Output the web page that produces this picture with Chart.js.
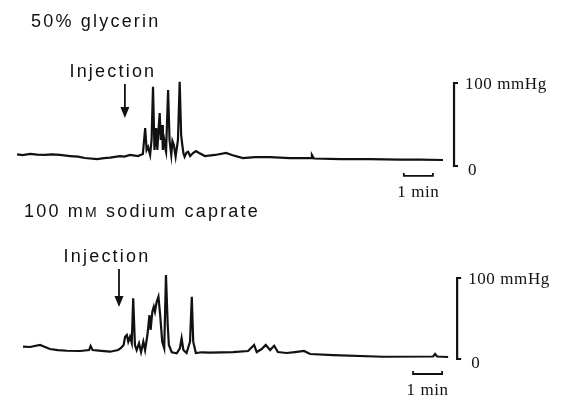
<!DOCTYPE html>
<html>
<head>
<meta charset="utf-8">
<script src="https://cdn.jsdelivr.net/npm/chart.js@4/dist/chart.umd.min.js"></script>
<style>
  body { margin: 0; background: #fff; }
  .wrap { position: relative; width: 562px; height: 403px; }
  canvas { position: absolute; left: 0; }
</style>
</head>
<body>
<div class="wrap">
  <canvas id="chartTop" width="562" height="200" style="top:0"></canvas>
  <canvas id="chartBottom" width="562" height="203" style="top:200px"></canvas>
</div>
<script>
// time in min, pressure in mmHg
const topTime = [0, 0.2, 0.45, 0.7, 0.97, 1.2, 1.48, 1.83, 2.1, 2.34, 2.76, 3.0, 3.21, 3.55, 3.7, 3.9, 4.17, 4.34, 4.42, 4.47, 4.52, 4.59, 4.64, 4.69, 4.74, 4.77, 4.8, 4.84, 4.88, 4.92, 4.96, 5.0, 5.03, 5.06, 5.09, 5.12, 5.14, 5.21, 5.26, 5.29, 5.32, 5.36, 5.41, 5.44, 5.47, 5.55, 5.61, 5.66, 5.7, 5.74, 5.78, 5.84, 5.9, 5.97, 6.07, 6.17, 6.28, 6.48, 6.83, 7.21, 7.41, 7.79, 8.21, 8.72, 9.41, 10.14, 10.17, 10.24, 11.14, 12.17, 13.21, 13.9, 14.69];
const topPressure = [13.9, 13.2, 14.5, 13.6, 13.3, 14.0, 13.3, 12, 11.2, 9.6, 8.4, 9.4, 10.2, 12, 11.4, 13.3, 12, 14.5, 45.8, 19.3, 22.9, 13.3, 31.3, 95.5, 19.3, 30, 45.8, 19.3, 43.4, 63.9, 31.3, 49.4, 19.3, 35, 29.3, 20, 16.9, 91.6, 31.3, 22, 13.3, 30, 25.3, 18, 11.2, 31.3, 101.6, 37.3, 25.3, 15, 11.2, 16, 17.2, 12, 15.7, 18.1, 15.7, 12, 13.3, 15.7, 13.3, 9.6, 10.8, 10.8, 9.6, 9.6, 13.3, 9, 8.4, 8.4, 7.8, 7.8, 7.2];

const bottomTime = [0, 0.24, 0.59, 0.76, 0.93, 1.2, 1.52, 1.97, 2.28, 2.33, 2.4, 2.7, 3.0, 3.28, 3.38, 3.47, 3.52, 3.58, 3.63, 3.69, 3.75, 3.8, 3.86, 3.92, 4.0, 4.07, 4.15, 4.21, 4.29, 4.36, 4.4, 4.46, 4.51, 4.55, 4.61, 4.67, 4.73, 4.8, 4.87, 4.93, 4.99, 5.03, 5.13, 5.3, 5.41, 5.47, 5.53, 5.64, 5.76, 5.82, 5.87, 5.96, 6.16, 6.45, 7.24, 7.76, 7.97, 8.06, 8.23, 8.37, 8.52, 8.66, 8.79, 9.09, 9.38, 9.69, 9.9, 10.69, 12.41, 14.14, 14.21, 14.28, 14.66];
const bottomPressure = [15.2, 14.8, 17.3, 14.8, 12.3, 11.0, 10.2, 9.9, 11.1, 16.0, 11.1, 10.0, 9.0, 11.1, 13.6, 17.3, 27.5, 29.6, 21.4, 27.5, 19.8, 74.9, 17.3, 11.1, 19.4, 8.6, 21.4, 11.1, 29.6, 54.3, 35.8, 58.4, 64.6, 58.4, 70.7, 76.9, 54.3, 21.4, 13.2, 103.7, 42.0, 17.3, 8.3, 7.0, 13.2, 25.6, 11.1, 7.4, 21.4, 76.9, 21.4, 7.4, 8.3, 7.8, 8.6, 9.9, 17.3, 8.6, 12.3, 17.3, 11.1, 16.4, 8.6, 7.4, 8.6, 9.9, 6.2, 4.9, 2.8, 3.1, 6.2, 3.1, 2.5];

const topTitle = [{ text: '50% glycerin' }];
const bottomTitle = [{ text: '100 m' }, { text: 'M', small: true }, { text: ' sodium caprate' }];
const injectionLabel = 'Injection';
const pressureLabel = '100 mmHg';
const zeroLabel = '0';
const timeLabel = '1 min';

const sans = '"Liberation Sans", Arial, Helvetica, sans-serif';
const serif = '"Liberation Serif", "Times New Roman", serif';

// draws titles, injection arrow and the calibration bars
const tracePlugin = {
  id: 'trace',
  afterDraw(chart) {
    const o = chart.options.plugins.trace;
    const ctx = chart.ctx;
    const xs = chart.scales.x, ys = chart.scales.y;
    ctx.save();
    ctx.fillStyle = '#111';
    ctx.strokeStyle = '#111';

    // title
    ctx.textBaseline = 'alphabetic';
    ctx.letterSpacing = '2.2px';
    let tx = o.titleX;
    o.title.forEach(seg => {
      ctx.font = (seg.small ? '14px ' : '18px ') + sans;
      ctx.fillText(seg.text, tx, o.titleY);
      tx += ctx.measureText(seg.text).width;
    });

    // injection arrow
    const ax = xs.getPixelForValue(o.arrowX);
    const aTop = ys.getPixelForValue(o.arrowTop);
    const aBot = ys.getPixelForValue(o.arrowBottom);
    ctx.font = '18px ' + sans;
    ctx.textAlign = 'center';
    ctx.fillText(injectionLabel, ax - 12, aTop - 7);
    ctx.lineWidth = 1.8;
    ctx.beginPath();
    ctx.moveTo(ax, aTop);
    ctx.lineTo(ax, aBot - 8);
    ctx.stroke();
    ctx.beginPath();
    ctx.moveTo(ax - 4.5, aBot - 11);
    ctx.lineTo(ax + 4.5, aBot - 11);
    ctx.lineTo(ax, aBot);
    ctx.closePath();
    ctx.fill();

    // pressure calibration bar
    ctx.letterSpacing = '0.6px';
    const bx = xs.getPixelForValue(o.barX);
    const y0 = ys.getPixelForValue(0);
    const y100 = ys.getPixelForValue(100);
    ctx.lineWidth = 2.2;
    ctx.beginPath();
    ctx.moveTo(bx + 4, y100);
    ctx.lineTo(bx, y100);
    ctx.lineTo(bx, y0);
    ctx.lineTo(bx + 4, y0);
    ctx.stroke();
    ctx.textAlign = 'left';
    ctx.font = '17px ' + serif;
    ctx.fillText(pressureLabel, bx + 11, y100 + 6);
    ctx.fillText(zeroLabel, bx + 14, y0 + 9);

    // time calibration bar
    const t0 = xs.getPixelForValue(o.timeStart);
    const t1 = xs.getPixelForValue(o.timeStart + 1);
    const ty = ys.getPixelForValue(o.timeY);
    ctx.lineWidth = 1.8;
    ctx.beginPath();
    ctx.moveTo(t0, ty - 3);
    ctx.lineTo(t0, ty);
    ctx.lineTo(t1, ty);
    ctx.lineTo(t1, ty - 3);
    ctx.stroke();
    ctx.textAlign = 'center';
    ctx.fillText(timeLabel, (t0 + t1) / 2, ty + 21);
    ctx.restore();
  }
};

function makeChart(id, times, values, padding, annot) {
  return new Chart(document.getElementById(id).getContext('2d'), {
    type: 'line',
    data: {
      datasets: [{
        data: times.map((t, i) => ({ x: t, y: values[i] })),
        borderColor: '#111',
        borderWidth: 2.2,
        pointRadius: 0,
        tension: 0,
        clip: false
      }]
    },
    options: {
      responsive: false,
      animation: false,
      layout: { padding: padding },
      scales: {
        x: { type: 'linear', min: 0, max: 18, display: false },
        y: { type: 'linear', min: -30, max: 110, display: false }
      },
      plugins: {
        legend: { display: false },
        tooltip: { enabled: false },
        trace: annot
      }
    },
    plugins: [tracePlugin]
  });
}

makeChart('chartTop', topTime, topPressure,
  { left: 17, right: 23, top: 74.7, bottom: 9.1 },
  { title: topTitle, titleX: 31, titleY: 27, arrowX: 3.72, arrowTop: 98.8, arrowBottom: 57.8,
    barX: 15.07, timeStart: 13.34, timeY: -12 });

makeChart('chartBottom', bottomTime, bottomPressure,
  { left: 23, right: 17, top: 69.9, bottom: 19.7 },
  { title: bottomTitle, titleX: 24, titleY: 17, arrowX: 3.31, arrowTop: 111, arrowBottom: 64.2,
    barX: 14.97, timeStart: 13.45, timeY: -18.5 });
</script>
</body>
</html>
